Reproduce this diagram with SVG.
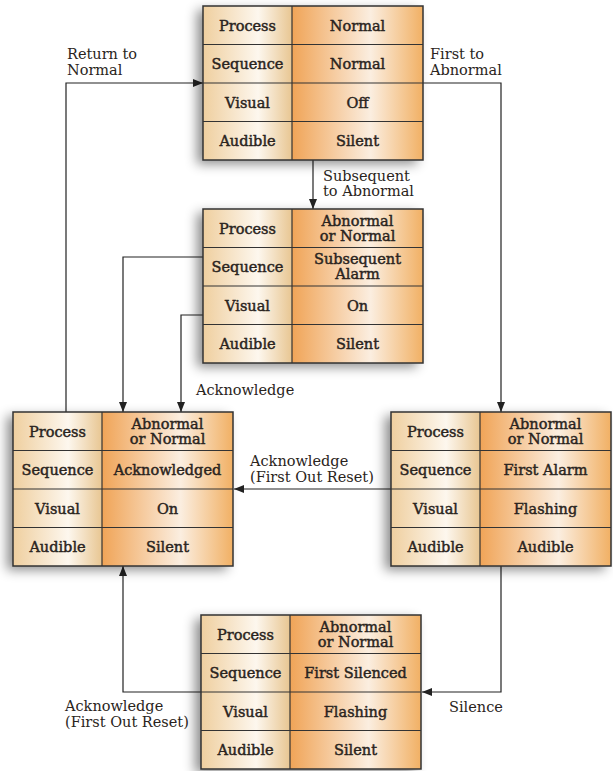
<svg xmlns="http://www.w3.org/2000/svg" width="613" height="771" viewBox="0 0 613 771">
<defs>
  <linearGradient id="gl" x1="0" y1="0" x2="1" y2="0">
    <stop offset="0" stop-color="#efcf9f"/>
    <stop offset="0.62" stop-color="#fdf7ee"/>
    <stop offset="1" stop-color="#e8c692"/>
  </linearGradient>
  <linearGradient id="gr" x1="0" y1="0" x2="1" y2="0">
    <stop offset="0" stop-color="#f0a457"/>
    <stop offset="0.6" stop-color="#fbeee0"/>
    <stop offset="1" stop-color="#f1b064"/>
  </linearGradient>
  <filter id="sh" x="-30%" y="-30%" width="160%" height="160%">
    <feDropShadow dx="-6" dy="4" stdDeviation="6" flood-color="#000" flood-opacity="0.45"/>
  </filter>
  <marker id="ah" viewBox="0 0 10 8" refX="10" refY="4" markerWidth="10" markerHeight="8" markerUnits="userSpaceOnUse" orient="auto">
    <path d="M0,0 L10,4 L0,8 Z" fill="#222"/>
  </marker>
  <style>
    .bg{fill:#fff;filter:url(#sh)}
    .cl{fill:url(#gl)}
    .cr{fill:url(#gr)}
    .frame{fill:none;stroke:#333;stroke-width:1.5}
    .grid{stroke:#333;stroke-width:1.2}
    .t{font-family:"DejaVu Serif","Liberation Serif",serif;font-size:14.5px;fill:#2a2420;stroke:#2a2420;stroke-width:0.45px;text-anchor:middle}
    .lbl{font-family:"DejaVu Serif","Liberation Serif",serif;font-size:14.5px;fill:#2a2420}
    .conn{fill:none;stroke:#222;stroke-width:1.2;marker-end:url(#ah)}
  </style>
  <g id="tbl">
    <rect class="bg" width="220" height="154"/>
    <rect class="cl" width="89" height="154"/>
    <rect class="cr" x="89" width="131" height="154"/>
    <line class="grid" x1="0" y1="38.5" x2="220" y2="38.5"/>
    <line class="grid" x1="0" y1="77" x2="220" y2="77"/>
    <line class="grid" x1="0" y1="115.5" x2="220" y2="115.5"/>
    <line class="grid" x1="89" y1="0" x2="89" y2="154"/>
    <rect class="frame" width="220" height="154"/>
    <text class="t" x="44.5" y="24.5">Process</text>
    <text class="t" x="44.5" y="63">Sequence</text>
    <text class="t" x="44.5" y="101.5">Visual</text>
    <text class="t" x="44.5" y="140">Audible</text>
  </g>
</defs>

<g id="connectors">
  <path class="conn" d="M66,412 V83 H203"/>
  <path class="conn" d="M423,83 H501 V412"/>
  <path class="conn" d="M313,160 V209"/>
  <path class="conn" d="M203,257 H123 V412"/>
  <path class="conn" d="M203,315 H181 V412"/>
  <path class="conn" d="M391,489 H234"/>
  <path class="conn" d="M501,566 V692 H422"/>
  <path class="conn" d="M201,692 H123 V566"/>
  <text class="lbl" x="67" y="59">Return to</text>
  <text class="lbl" x="67" y="75">Normal</text>
  <text class="lbl" x="430" y="59">First to</text>
  <text class="lbl" x="430" y="75">Abnormal</text>
  <text class="lbl" x="323" y="181">Subsequent</text>
  <text class="lbl" x="323" y="196">to Abnormal</text>
  <text class="lbl" x="196" y="395">Acknowledge</text>
  <text class="lbl" x="250" y="466">Acknowledge</text>
  <text class="lbl" x="250" y="482">(First Out Reset)</text>
  <text class="lbl" x="449" y="712">Silence</text>
  <text class="lbl" x="65" y="711">Acknowledge</text>
  <text class="lbl" x="65" y="727">(First Out Reset)</text>
</g>

<g id="state-normal" transform="translate(203,6)">
  <use href="#tbl"/>
  <text class="t" x="154.5" y="24.5">Normal</text>
  <text class="t" x="154.5" y="63">Normal</text>
  <text class="t" x="154.5" y="101.5">Off</text>
  <text class="t" x="154.5" y="140">Silent</text>
</g>

<g id="state-subsequent-alarm" transform="translate(203,209)">
  <use href="#tbl"/>
  <text class="t" x="154.5" y="16.75">Abnormal</text>
  <text class="t" x="154.5" y="31.75">or Normal</text>
  <text class="t" x="154.5" y="55.25">Subsequent</text>
  <text class="t" x="154.5" y="70.25">Alarm</text>
  <text class="t" x="154.5" y="101.5">On</text>
  <text class="t" x="154.5" y="140">Silent</text>
</g>

<g id="state-acknowledged" transform="translate(13,412)">
  <use href="#tbl"/>
  <text class="t" x="154.5" y="16.75">Abnormal</text>
  <text class="t" x="154.5" y="31.75">or Normal</text>
  <text class="t" x="154.5" y="63">Acknowledged</text>
  <text class="t" x="154.5" y="101.5">On</text>
  <text class="t" x="154.5" y="140">Silent</text>
</g>

<g id="state-first-alarm" transform="translate(391,412)">
  <use href="#tbl"/>
  <text class="t" x="154.5" y="16.75">Abnormal</text>
  <text class="t" x="154.5" y="31.75">or Normal</text>
  <text class="t" x="154.5" y="63">First Alarm</text>
  <text class="t" x="154.5" y="101.5">Flashing</text>
  <text class="t" x="154.5" y="140">Audible</text>
</g>

<g id="state-first-silenced" transform="translate(201,615)">
  <use href="#tbl"/>
  <text class="t" x="154.5" y="16.75">Abnormal</text>
  <text class="t" x="154.5" y="31.75">or Normal</text>
  <text class="t" x="154.5" y="63">First Silenced</text>
  <text class="t" x="154.5" y="101.5">Flashing</text>
  <text class="t" x="154.5" y="140">Silent</text>
</g>
</svg>
